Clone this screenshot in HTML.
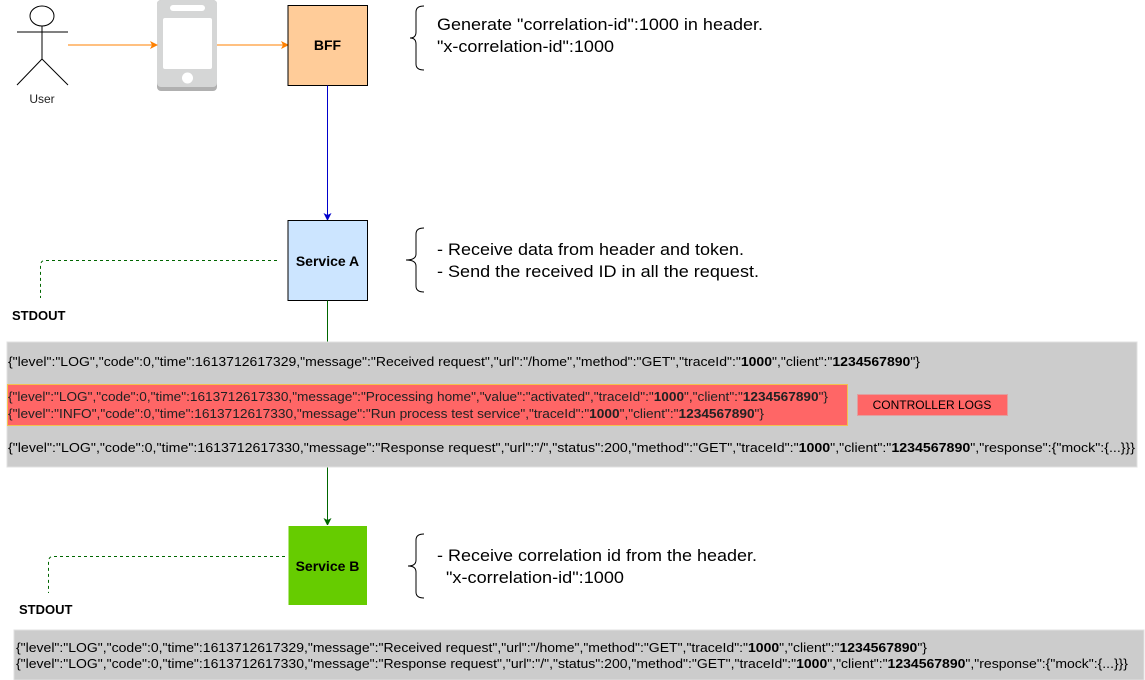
<!DOCTYPE html>
<html><head><meta charset="utf-8"><style>
html,body{margin:0;padding:0;background:#fff;}
svg{display:block;font-family:"Liberation Sans",sans-serif;}
</style></head><body>
<svg width="1145" height="680" viewBox="0 0 1145 680" xmlns="http://www.w3.org/2000/svg">
<defs>
<marker id="ao" markerWidth="8" markerHeight="8" refX="7" refY="4" orient="auto" markerUnits="userSpaceOnUse"><path d="M0,0 L8,4 L0,8 L2,4 z" fill="#ff8000"/></marker>
<marker id="ab" markerWidth="8" markerHeight="8" refX="7" refY="4" orient="auto" markerUnits="userSpaceOnUse"><path d="M0,0 L8,4 L0,8 L2,4 z" fill="#0000cc"/></marker>
<marker id="ag" markerWidth="8" markerHeight="8" refX="7" refY="4" orient="auto" markerUnits="userSpaceOnUse"><path d="M0,0 L8,4 L0,8 L2,4 z" fill="#006600"/></marker>
</defs>
<g stroke="#000" fill="none" stroke-width="1">
<ellipse cx="42" cy="16" rx="12" ry="10" fill="#fff"/>
<line x1="17" y1="32" x2="68" y2="32"/>
<line x1="42" y1="26" x2="42" y2="59"/>
<line x1="42" y1="59" x2="17" y2="85"/>
<line x1="42" y1="59" x2="68" y2="85"/>
</g>
<text x="42" y="103" font-size="12" text-anchor="middle" fill="#222">User</text>
<rect x="157" y="0" width="60" height="91" rx="4" fill="#b0b0b0"/>
<rect x="157" y="0" width="60" height="87" rx="4" fill="#d5d6d6"/>
<rect x="170" y="5" width="35" height="6" rx="3" fill="#fff"/>
<rect x="163" y="18" width="49" height="51" rx="2" fill="#fff"/>
<circle cx="187.5" cy="78" r="5.5" fill="#fff"/>
<line x1="68" y1="45" x2="157" y2="45" stroke="#ff8000" marker-end="url(#ao)"/>
<line x1="217" y1="45" x2="288" y2="45" stroke="#ff8000" marker-end="url(#ao)"/>
<rect x="288" y="5.5" width="79.5" height="80" fill="#ffcc99" stroke="#000"/>
<text x="327.5" y="50" font-size="14" font-weight="bold" text-anchor="middle">BFF</text>
<line x1="327.5" y1="85.5" x2="327.5" y2="220" stroke="#0000cc" marker-end="url(#ab)"/>
<rect x="288" y="220.5" width="79.5" height="80" fill="#cce5ff" stroke="#000"/>
<text x="327.5" y="266" font-size="14" font-weight="bold" text-anchor="middle">Service A</text>
<line x1="327.5" y1="300.5" x2="327.5" y2="342" stroke="#006600"/>
<line x1="327.5" y1="467" x2="327.5" y2="525" stroke="#006600" marker-end="url(#ag)"/>
<rect x="288" y="525.5" width="79.5" height="80" fill="#66cc00" stroke="#fff"/>
<text x="327.5" y="571" font-size="14" font-weight="bold" text-anchor="middle">Service B</text>
<g stroke="#000" fill="none">
<path d="M424,6 Q416,6 416,12 L416,32 Q416,38 410,38 Q416,38 416,44 L416,64 Q416,70 424,70"/>
<path d="M424,228 Q416,228 416,234 L416,254 Q416,260 406,260 Q416,260 416,266 L416,286 Q416,292 424,292"/>
<path d="M424,534 Q416,534 416,540 L416,560 Q416,566 408,566 Q416,566 416,572 L416,592 Q416,598 424,598"/>
</g>
<g font-size="17" fill="#000">
<text x="437" y="30" textLength="326" lengthAdjust="spacingAndGlyphs">Generate "correlation-id":1000 in header.</text>
<text x="437" y="52" textLength="177" lengthAdjust="spacingAndGlyphs">"x-correlation-id":1000</text>
<text x="437" y="255" textLength="307" lengthAdjust="spacingAndGlyphs">- Receive data from header and token.</text>
<text x="437" y="277" textLength="322" lengthAdjust="spacingAndGlyphs">- Send the received ID in all the request.</text>
<text x="437" y="561" textLength="320" lengthAdjust="spacingAndGlyphs">- Receive correlation id from the header.</text>
<text x="446" y="583" textLength="178" lengthAdjust="spacingAndGlyphs">"x-correlation-id":1000</text>
</g>
<path d="M277,260.5 L45,260.5 Q40.5,260.5 40.5,266 L40.5,298" stroke="#006600" fill="none" stroke-dasharray="3,3"/>
<text x="12" y="320" font-size="13" font-weight="bold">STDOUT</text>
<path d="M285,556.5 L53,556.5 Q48.5,556.5 48.5,562 L48.5,593" stroke="#006600" fill="none" stroke-dasharray="3,3"/>
<text x="19" y="614" font-size="13" font-weight="bold">STDOUT</text>
<rect x="7" y="342" width="1130" height="125" fill="#cccccc" stroke="#e0e0e0"/>
<g font-size="13" fill="#000">
<text x="8" y="366" textLength="912" lengthAdjust="spacingAndGlyphs">{"level":"LOG","code":0,"time":1613712617329,"message":"Received request","url":"/home","method":"GET","traceId":"<tspan font-weight="bold">1000</tspan>","client":"<tspan font-weight="bold">1234567890</tspan>"}</text>
</g>
<rect x="7.5" y="384.5" width="840" height="41" fill="#ff6666" stroke="#f2c14e"/>
<g font-size="13" fill="#222">
<text x="8" y="401" textLength="820" lengthAdjust="spacingAndGlyphs">{"level":"LOG","code":0,"time":1613712617330,"message":"Processing home","value":"activated","traceId":"<tspan font-weight="bold">1000</tspan>","client":"<tspan font-weight="bold">1234567890</tspan>"}</text>
<text x="8" y="418" textLength="756" lengthAdjust="spacingAndGlyphs">{"level":"INFO","code":0,"time":1613712617330,"message":"Run process test service","traceId":"<tspan font-weight="bold">1000</tspan>","client":"<tspan font-weight="bold">1234567890</tspan>"}</text>
</g>
<rect x="857.5" y="394.5" width="150" height="21" fill="#ff6666" stroke="#e0a0a0"/>
<text x="932" y="409" font-size="12" text-anchor="middle">CONTROLLER LOGS</text>
<text x="8" y="452" font-size="13" textLength="1127" lengthAdjust="spacingAndGlyphs">{"level":"LOG","code":0,"time":1613712617330,"message":"Response request","url":"/","status":200,"method":"GET","traceId":"<tspan font-weight="bold">1000</tspan>","client":"<tspan font-weight="bold">1234567890</tspan>","response":{"mock":{...}}}</text>
<rect x="14" y="630" width="1130" height="50" fill="#cccccc" stroke="#e0e0e0"/>
<g font-size="13">
<text x="16" y="652" textLength="911" lengthAdjust="spacingAndGlyphs">{"level":"LOG","code":0,"time":1613712617329,"message":"Received request","url":"/home","method":"GET","traceId":"<tspan font-weight="bold">1000</tspan>","client":"<tspan font-weight="bold">1234567890</tspan>"}</text>
<text x="16" y="668" textLength="1112" lengthAdjust="spacingAndGlyphs">{"level":"LOG","code":0,"time":1613712617330,"message":"Response request","url":"/","status":200,"method":"GET","traceId":"<tspan font-weight="bold">1000</tspan>","client":"<tspan font-weight="bold">1234567890</tspan>","response":{"mock":{...}}}</text>
</g>
</svg>
</body></html>
